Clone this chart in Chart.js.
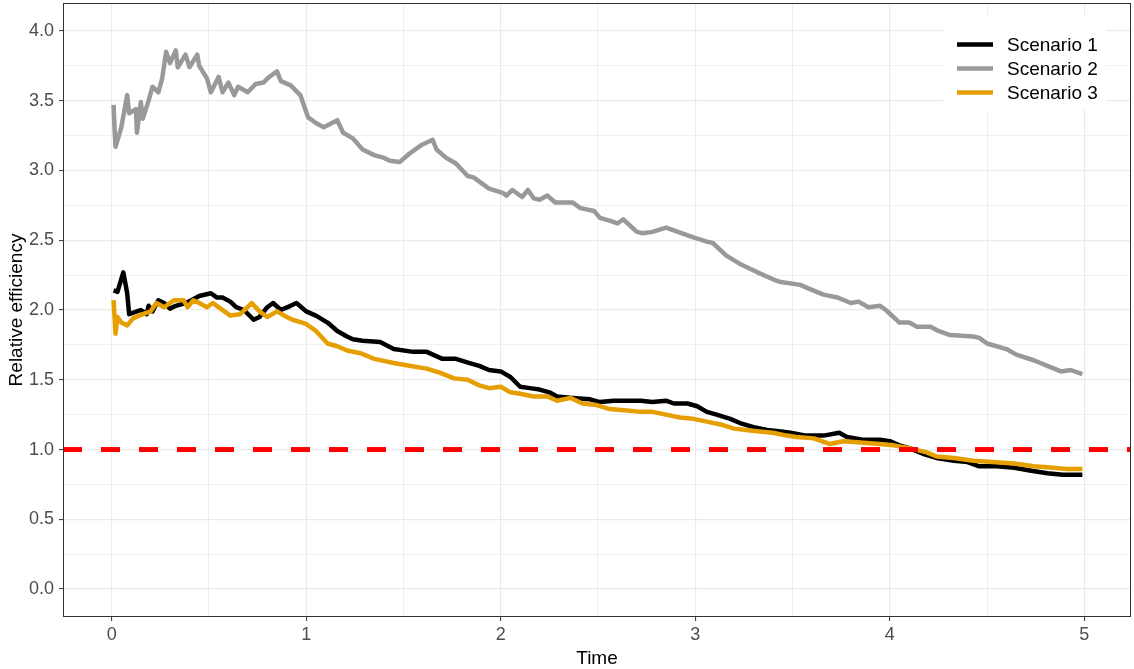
<!DOCTYPE html>
<html>
<head>
<meta charset="utf-8">
<script src="https://cdn.jsdelivr.net/npm/chart.js@4.4.1/dist/chart.umd.min.js"></script>
<style>
  body { margin: 0; background: #ffffff; }
  #wrap { width: 1134px; height: 669px; }
</style>
</head>
<body>
<div id="wrap"><canvas id="effChart" width="1134" height="669"></canvas></div>
<script>
const seriesNames = ["Scenario 1", "Scenario 2", "Scenario 3"];
const seriesColors = ["#000000", "#999999", "#E69F00"];

// Scenario 1 (black)
const s1Time = [0.01, 0.03, 0.06, 0.08, 0.09, 0.13, 0.15, 0.18, 0.19, 0.21, 0.24, 0.27, 0.30, 0.33, 0.38,
  0.41, 0.45, 0.51, 0.54, 0.57, 0.61, 0.64, 0.68, 0.73, 0.76, 0.80, 0.83, 0.87, 0.92, 0.95, 1.00, 1.05,
  1.11, 1.16, 1.21, 1.24, 1.29, 1.38, 1.45, 1.55, 1.62, 1.70, 1.77, 1.84, 1.89, 1.94, 2.00, 2.05, 2.10,
  2.15, 2.20, 2.25, 2.29, 2.37, 2.46, 2.51, 2.58, 2.66, 2.72, 2.78, 2.85, 2.89, 2.96, 3.01, 3.06, 3.11,
  3.18, 3.23, 3.30, 3.37, 3.44, 3.49, 3.57, 3.66, 3.74, 3.78, 3.86, 3.95, 4.00, 4.05, 4.10, 4.17, 4.24,
  4.33, 4.40, 4.46, 4.55, 4.64, 4.72, 4.81, 4.89, 4.99];
const s1Eff = [2.14, 2.13, 2.27, 2.12, 1.97, 1.99, 2.00, 1.97, 2.03, 1.99, 2.07, 2.05, 2.01, 2.03, 2.05,
  2.07, 2.10, 2.12, 2.09, 2.09, 2.06, 2.02, 2.00, 1.93, 1.95, 2.02, 2.05, 2.00, 2.03, 2.05, 1.99, 1.96,
  1.91, 1.85, 1.81, 1.79, 1.78, 1.77, 1.72, 1.70, 1.70, 1.65, 1.65, 1.62, 1.60, 1.57, 1.56, 1.52, 1.45,
  1.44, 1.43, 1.41, 1.38, 1.37, 1.36, 1.34, 1.35, 1.35, 1.35, 1.34, 1.35, 1.33, 1.33, 1.31, 1.27, 1.25,
  1.22, 1.19, 1.16, 1.14, 1.13, 1.12, 1.10, 1.10, 1.12, 1.09, 1.07, 1.07, 1.06, 1.03, 1.01, 0.97, 0.94,
  0.92, 0.91, 0.88, 0.88, 0.87, 0.85, 0.83, 0.82, 0.82];

// Scenario 2 (grey)
const s2Time = [0.01, 0.015, 0.02, 0.05, 0.08, 0.09, 0.125, 0.13, 0.15, 0.16, 0.19, 0.21, 0.24, 0.26, 0.28,
  0.30, 0.33, 0.34, 0.38, 0.40, 0.44, 0.45, 0.49, 0.51, 0.55, 0.57, 0.60, 0.63, 0.65, 0.70, 0.74, 0.78,
  0.81, 0.85, 0.87, 0.92, 0.97, 1.01, 1.05, 1.09, 1.16, 1.19, 1.24, 1.29, 1.35, 1.40, 1.43, 1.48, 1.53,
  1.59, 1.65, 1.67, 1.72, 1.77, 1.83, 1.86, 1.94, 2.01, 2.03, 2.06, 2.11, 2.14, 2.17, 2.20, 2.24, 2.28,
  2.37, 2.41, 2.48, 2.51, 2.56, 2.60, 2.63, 2.70, 2.73, 2.78, 2.85, 2.89, 2.99, 3.06, 3.09, 3.16, 3.23,
  3.32, 3.40, 3.44, 3.54, 3.59, 3.66, 3.73, 3.80, 3.84, 3.89, 3.95, 3.98, 4.05, 4.10, 4.14, 4.21, 4.25,
  4.31, 4.43, 4.46, 4.50, 4.60, 4.65, 4.74, 4.81, 4.88, 4.93, 4.99];
const s2Eff = [3.47, 3.30, 3.17, 3.31, 3.54, 3.41, 3.44, 3.27, 3.49, 3.37, 3.50, 3.60, 3.56, 3.66, 3.85,
  3.77, 3.86, 3.74, 3.83, 3.74, 3.83, 3.75, 3.66, 3.56, 3.67, 3.56, 3.63, 3.54, 3.60, 3.56, 3.62, 3.63,
  3.67, 3.71, 3.64, 3.61, 3.54, 3.38, 3.34, 3.31, 3.36, 3.27, 3.23, 3.15, 3.11, 3.09, 3.07, 3.06, 3.12,
  3.18, 3.22, 3.15, 3.09, 3.05, 2.96, 2.95, 2.87, 2.84, 2.82, 2.86, 2.81, 2.86, 2.80, 2.79, 2.82, 2.77,
  2.77, 2.73, 2.71, 2.66, 2.64, 2.62, 2.65, 2.56, 2.55, 2.56, 2.59, 2.57, 2.52, 2.49, 2.48, 2.39, 2.33,
  2.27, 2.22, 2.20, 2.18, 2.15, 2.11, 2.09, 2.05, 2.06, 2.02, 2.03, 2.00, 1.91, 1.91, 1.88, 1.88, 1.85,
  1.82, 1.81, 1.80, 1.76, 1.72, 1.68, 1.64, 1.60, 1.56, 1.57, 1.54];

// Scenario 3 (orange)
const s3Time = [0.01, 0.02, 0.03, 0.05, 0.08, 0.11, 0.16, 0.20, 0.23, 0.27, 0.32, 0.37, 0.39, 0.42, 0.45,
  0.49, 0.52, 0.56, 0.61, 0.66, 0.69, 0.72, 0.76, 0.80, 0.85, 0.90, 0.93, 1.00, 1.05, 1.11, 1.16, 1.21,
  1.28, 1.35, 1.45, 1.53, 1.62, 1.69, 1.76, 1.83, 1.89, 1.94, 2.00, 2.05, 2.10, 2.17, 2.24, 2.29, 2.36,
  2.42, 2.49, 2.56, 2.65, 2.72, 2.78, 2.85, 2.92, 2.99, 3.06, 3.13, 3.20, 3.26, 3.33, 3.40, 3.47, 3.52,
  3.61, 3.69, 3.76, 3.85, 3.95, 4.02, 4.10, 4.19, 4.24, 4.33, 4.43, 4.53, 4.64, 4.74, 4.84, 4.91, 4.99];
const s3Eff = [2.07, 1.83, 1.95, 1.91, 1.89, 1.94, 1.97, 1.99, 2.05, 2.02, 2.07, 2.07, 2.02, 2.07, 2.05,
  2.02, 2.05, 2.01, 1.96, 1.97, 2.01, 2.05, 1.99, 1.95, 1.99, 1.95, 1.93, 1.90, 1.85, 1.76, 1.74, 1.71,
  1.69, 1.65, 1.62, 1.60, 1.58, 1.55, 1.51, 1.50, 1.46, 1.44, 1.45, 1.41, 1.40, 1.38, 1.38, 1.35, 1.37,
  1.33, 1.32, 1.29, 1.28, 1.27, 1.27, 1.25, 1.23, 1.22, 1.20, 1.18, 1.15, 1.14, 1.13, 1.12, 1.10, 1.09,
  1.08, 1.04, 1.06, 1.05, 1.04, 1.03, 1.01, 0.98, 0.95, 0.94, 0.92, 0.91, 0.90, 0.88, 0.87, 0.86, 0.86];

const refLevel = 1.0;
const xRange = [-0.25, 5.24];
const yRange = [-0.2, 4.2];
const xBreaks = [0, 1, 2, 3, 4, 5];
const yBreaks = [0, 0.5, 1, 1.5, 2, 2.5, 3, 3.5, 4];

function withMinor(breaks) {
  const out = [];
  for (let i = 0; i < breaks.length; i++) {
    out.push(breaks[i]);
    if (i < breaks.length - 1) out.push((breaks[i] + breaks[i + 1]) / 2);
  }
  return out;
}

function toPoints(xs, ys) {
  return xs.map((x, i) => ({ x: x, y: ys[i] }));
}

const FONT = "'Liberation Sans', Arial, sans-serif";
const GRID = "#EBEBEB";

function gridOpts(breaks) {
  return {
    color: GRID,
    lineWidth: (c) => breaks.includes(c.tick.value) ? 1.2 : 0.8,
    drawTicks: true,
    tickLength: 4,
    tickColor: (c) => breaks.includes(c.tick.value) ? "#333333" : "rgba(0,0,0,0)",
    tickWidth: 1
  };
}

const panelExtras = {
  id: "panelExtras",
  afterDraw(chart) {
    const { ctx, chartArea: a } = chart;
    ctx.save();
    // panel border
    ctx.strokeStyle = "#333333";
    ctx.lineWidth = 1;
    ctx.strokeRect(a.left + 0.5, a.top + 0.5, a.right - a.left - 1, a.bottom - a.top - 1);

    // legend box inside the panel
    const boxL = a.right - 188, boxT = a.top + 12;
    ctx.fillStyle = "#ffffff";
    ctx.fillRect(boxL, boxT, 163, 95);
    ctx.font = "19px " + FONT;
    ctx.textBaseline = "middle";
    ctx.textAlign = "left";
    seriesNames.forEach((name, i) => {
      const y = a.top + 41.5 + i * 24;
      ctx.strokeStyle = seriesColors[i];
      ctx.lineWidth = 4.5;
      ctx.beginPath();
      ctx.moveTo(boxL + 14, y);
      ctx.lineTo(boxL + 50, y);
      ctx.stroke();
      ctx.fillStyle = "#000000";
      ctx.fillText(name, boxL + 64, y + 1);
    });
    ctx.restore();
  }
};

const lineStyle = { borderWidth: 4.5, pointRadius: 0, tension: 0, fill: false, borderJoinStyle: "round", borderCapStyle: "butt" };

new Chart(document.getElementById("effChart").getContext("2d"), {
  type: "line",
  data: {
    datasets: [
      Object.assign({ label: "ref", data: toPoints(xRange, [refLevel, refLevel]), borderColor: "#FF0000",
        borderDash: [19, 19], order: 0 }, lineStyle, { borderWidth: 5 }),
      Object.assign({ label: seriesNames[2], data: toPoints(s3Time, s3Eff), borderColor: seriesColors[2], order: 1 }, lineStyle),
      Object.assign({ label: seriesNames[1], data: toPoints(s2Time, s2Eff), borderColor: seriesColors[1], order: 2 }, lineStyle),
      Object.assign({ label: seriesNames[0], data: toPoints(s1Time, s1Eff), borderColor: seriesColors[0], order: 3 }, lineStyle)
    ]
  },
  options: {
    responsive: false,
    animation: false,
    layout: { padding: { top: 3, right: 3, left: 0, bottom: 0 } },
    plugins: { legend: { display: false }, tooltip: { enabled: false } },
    scales: {
      x: {
        type: "linear",
        min: xRange[0],
        max: xRange[1],
        afterBuildTicks: (s) => { s.ticks = withMinor(xBreaks).map(v => ({ value: v })); },
        afterFit: (s) => { s.height = 52; s.paddingLeft = 0; s.paddingRight = 0; },
        border: { display: false },
        grid: gridOpts(xBreaks),
        ticks: {
          autoSkip: false, maxRotation: 0, padding: 3,
          color: "#4D4D4D", font: { family: FONT, size: 18 },
          callback: (v) => xBreaks.includes(v) ? String(v) : ""
        },
        title: { display: true, text: "Time", color: "#000000", padding: 0,
          font: { family: FONT, size: 19, lineHeight: 1.1 } }
      },
      y: {
        type: "linear",
        min: yRange[0],
        max: yRange[1],
        afterBuildTicks: (s) => { s.ticks = withMinor(yBreaks).map(v => ({ value: v })); },
        afterFit: (s) => { s.width = 63; s.paddingTop = 0; s.paddingBottom = 0; },
        border: { display: false },
        grid: gridOpts(yBreaks),
        ticks: {
          autoSkip: false, padding: 5,
          color: "#4D4D4D", font: { family: FONT, size: 18 },
          callback: (v) => yBreaks.includes(v) ? v.toFixed(1) : ""
        },
        title: { display: true, text: "Relative efficiency", color: "#000000", padding: 5,
          font: { family: FONT, size: 19, lineHeight: 1.2 } }
      }
    }
  },
  plugins: [panelExtras]
});
</script>
</body>
</html>
